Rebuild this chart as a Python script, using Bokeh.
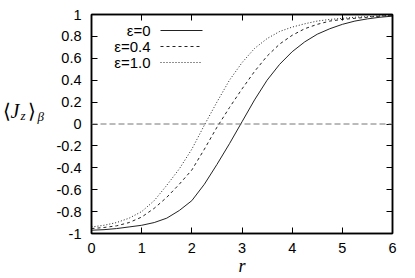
from bokeh.plotting import figure
from bokeh.layouts import row
from bokeh.models import Range1d, LinearAxis, FixedTicker, CustomJSTickFormatter, Label, Span
from bokeh.embed import file_html
from bokeh.resources import INLINE

# ---- data ----
r = [0, 0.25, 0.5, 0.75, 1, 1.25, 1.5, 1.75, 2, 2.25, 2.5, 2.75, 3, 3.25, 3.5, 3.75, 4,
     4.25, 4.5, 4.75, 5, 5.25, 5.5, 5.75, 6]
jz_eps0 = [-0.97, -0.965, -0.955, -0.94, -0.925, -0.90, -0.86, -0.79, -0.70, -0.55, -0.37, -0.18,
           0.02, 0.22, 0.40, 0.545, 0.66, 0.75, 0.82, 0.87, 0.91, 0.94, 0.96, 0.975, 0.985]
jz_eps04 = [-0.955, -0.945, -0.93, -0.90, -0.85, -0.77, -0.67, -0.55, -0.42, -0.23, -0.03, 0.15,
            0.32, 0.48, 0.62, 0.73, 0.81, 0.87, 0.91, 0.94, 0.955, 0.965, 0.975, 0.985, 0.99]
jz_eps10 = [-0.94, -0.925, -0.90, -0.86, -0.80, -0.70, -0.56, -0.41, -0.23, -0.01, 0.20, 0.40,
            0.56, 0.69, 0.78, 0.845, 0.885, 0.915, 0.94, 0.955, 0.965, 0.975, 0.98, 0.987, 0.99]
series_labels = ["ε=0", "ε=0.4", "ε=1.0"]
x_ticks = [0, 1, 2, 3, 4, 5, 6]
y_ticks = [-1, -0.8, -0.6, -0.4, -0.2, 0, 0.2, 0.4, 0.6, 0.8, 1]
zero_level = 0

FONT = "Liberation Sans"
SERIF = "Liberation Serif"

W, H = 415, 278
LW = 52  # width of the side strip that carries the y-axis label
# frame geometry in picture pixels (for annotation placement)
FL, FR, FT, FB = 91, 392, 14, 233
def rx(px):
    return (px - FL) / (FR - FL) * 6
def vy(py):
    return 1 - (py - FT) / (FB - FT) * 2

p = figure(width=W - LW, height=H, output_backend="svg", toolbar_location=None,
           x_range=Range1d(0, 6), y_range=Range1d(-1, 1),
           min_border_left=FL - LW, min_border_right=W - FR, min_border_top=FT,
           min_border_bottom=H - FB)
p.background_fill_color = "white"
p.border_fill_color = "white"
p.grid.visible = False
p.outline_line_color = "black"
p.outline_line_width = 1.5

fmt = CustomJSTickFormatter(code="return tick.toFixed(1).replace(/\\.0$/, '').replace(/^-0$/, '0');")
blank = CustomJSTickFormatter(code="return '';")

for ax in [p.xaxis[0], p.yaxis[0]]:
    ax.major_tick_in = 6
    ax.major_tick_out = 0
    ax.minor_tick_line_color = None
    ax.axis_line_color = "black"
    ax.axis_line_width = 1.5
    ax.major_tick_line_color = "black"
    ax.major_label_text_font = FONT
    ax.major_label_text_font_size = "14.5px"
    ax.major_label_text_color = "black"
p.xaxis[0].ticker = FixedTicker(ticks=x_ticks)
p.yaxis[0].ticker = FixedTicker(ticks=y_ticks)
p.xaxis[0].major_label_standoff = 9
p.yaxis[0].major_label_standoff = 10
p.xaxis[0].formatter = fmt
p.yaxis[0].formatter = fmt
p.xaxis[0].axis_label = "r"
p.xaxis[0].axis_label_text_font = SERIF
p.xaxis[0].axis_label_text_font_style = "italic"
p.xaxis[0].axis_label_text_font_size = "18px"
p.xaxis[0].axis_label_text_color = "black"
p.xaxis[0].axis_label_standoff = 0

ax_top = LinearAxis(ticker=FixedTicker(ticks=x_ticks), major_tick_in=6, major_tick_out=0,
                    minor_tick_line_color=None, formatter=blank,
                    major_label_standoff=0, axis_line_color="black", axis_line_width=1.5)
ax_right = LinearAxis(ticker=FixedTicker(ticks=y_ticks), major_tick_in=6, major_tick_out=0,
                      minor_tick_line_color=None, formatter=blank,
                      major_label_standoff=0, axis_line_color="black", axis_line_width=1.5)
p.add_layout(ax_top, "above")
p.add_layout(ax_right, "right")

p.add_layout(Span(location=zero_level, dimension="width", line_color="#777777",
                  line_width=1, line_dash="6 3"))

styles = [dict(line_dash="solid", line_width=1.0, line_color="#222222"),
          dict(line_dash="3 3", line_width=1.0, line_color="#222222"),
          dict(line_dash="1 2", line_width=1.0, line_color="#222222")]
for ys, st in zip([jz_eps0, jz_eps04, jz_eps10], styles):
    p.line(r, ys, **st)

# legend (gnuplot style: right-aligned text, then sample)
leg_py = [30, 46, 62]
for lab, st, py in zip(series_labels, styles, leg_py):
    p.add_layout(Label(x=rx(150), y=vy(py), text=lab, text_align="right",
                       text_baseline="middle", text_font=FONT, text_font_size="15px",
                       text_color="black"))
    p.line([rx(160), rx(202)], [vy(py), vy(py)], **st)

# side strip with the y-axis label, built from pieces (data units = pixels from top-left)
side = figure(width=LW, height=H, output_backend="svg", toolbar_location=None,
              x_range=Range1d(0, LW), y_range=Range1d(H, 0),
              x_axis_type=None, y_axis_type=None, min_border=0)
side.outline_line_color = None
side.grid.visible = False
side.background_fill_color = "white"
side.border_fill_color = "white"
ylab = [("⟨", 2, 123, "normal", "20px"), ("J", 10, 123, "italic", "20px"),
        ("z", 20, 128, "italic", "13px"), ("⟩", 27, 123, "normal", "20px"),
        ("β", 37, 129, "italic", "13px")]
for t, px, py, sty, fs in ylab:
    side.add_layout(Label(x=px, y=py, text=t, text_align="left", text_baseline="middle",
                          text_font=SERIF, text_font_style=sty, text_font_size=fs,
                          text_color="black"))

layout = row(side, p, spacing=0)
open("out.html", "w").write(file_html(layout, INLINE))
